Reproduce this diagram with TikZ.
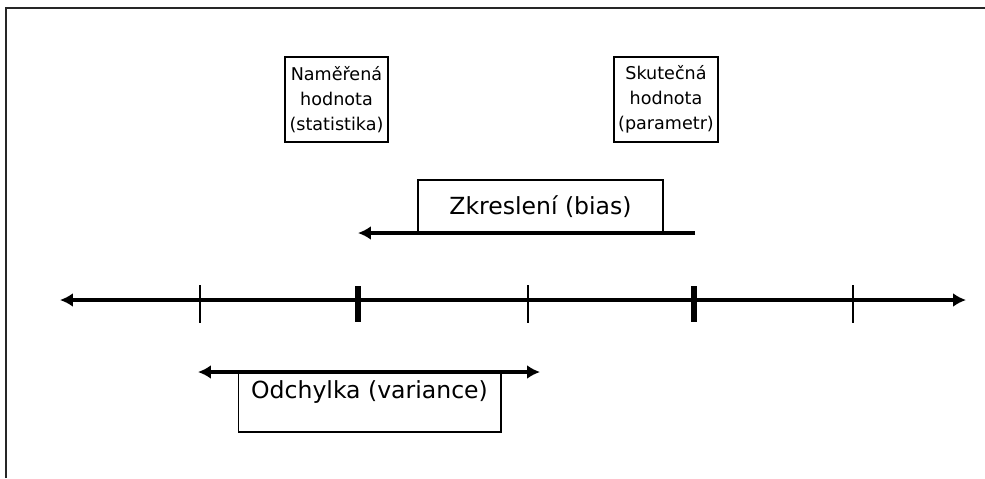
\documentclass[tikz,border=0pt]{standalone}
\usepackage{fontspec}
\setmainfont{DejaVu Sans}
\usetikzlibrary{arrows.meta}
\tikzset{
  box/.style={draw,line width=0.6pt,align=center,inner sep=0pt,font=\fontsize{10}{14.2}\selectfont},
  velky/.style={font=\fontsize{13.4}{16}\selectfont},
  tenka/.style={line width=0.6pt},
  tlusta/.style={line width=2.9pt},
  sipka/.style={line width=2.2pt}
}
\begin{document}
\begin{tikzpicture}[>={Latex[length=2.6mm,width=2.8mm]},x=0.02cm,y=-0.02cm]
	\useasboundingbox (0,0) rectangle (985,478);
	\fill[white] (0,0) rectangle (985,478);
	% ramecek
	\draw[line width=1.6pt,black!85] (6,478)--(6,8)--(985,8);
	% osa
	\coordinate (L) at (60,300);
	\coordinate (R) at (966,300);
	\draw[sipka,<->] (L)--(R);
	\foreach \x in {200,528,853}
		\draw[tenka] (\x,285)--(\x,323);
	\foreach \x in {358,694}
		\draw[tlusta] (\x,286)--(\x,322);
	% popisky
	\node[box,minimum width=2.06cm,minimum height=1.7cm] (stat) at (336.5,99.5) {Naměřená\\hodnota\\(statistika)};
	\node[box,minimum width=2.08cm,minimum height=1.7cm] (par) at (666,99.5) {Skutečná\\hodnota\\(parametr)};
	% zkresleni
	\node[box,velky,minimum width=4.9cm,minimum height=1.06cm] (bias) at (540.5,206.5) {Zkreslení (bias)};
	\coordinate (b1) at (695,233);
	\coordinate (b2) at (358,233);
	\draw[sipka,->] (b1)--(b2);
	% odchylka
	\node[box,velky,minimum width=5.26cm,text height=0.52cm,text depth=0.68cm] (var) at (369.5,402) {Odchylka (variance)};
	\coordinate (v1) at (198,372);
	\coordinate (v2) at (540,372);
	\draw[sipka,<->] (v1)--(v2);
\end{tikzpicture}
\end{document}
